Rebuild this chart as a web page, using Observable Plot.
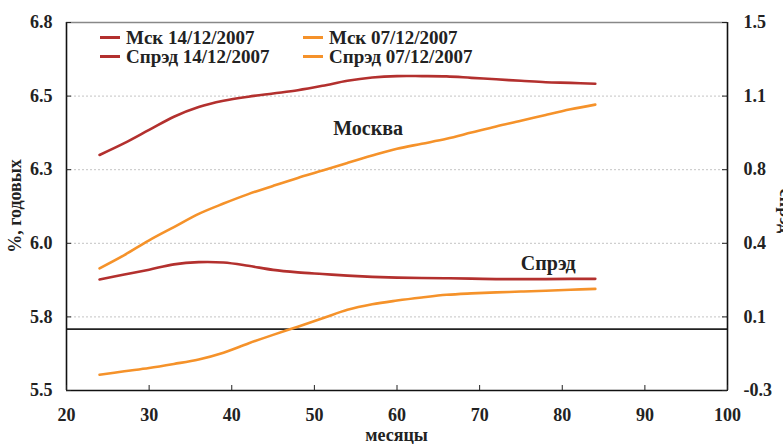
<!DOCTYPE html>
<html>
<head>
<meta charset="utf-8">
<script src="https://cdn.jsdelivr.net/npm/d3@7"></script>
<script src="https://cdn.jsdelivr.net/npm/@observablehq/plot@0.6"></script>
<style>
  html, body { margin: 0; padding: 0; background: #fff; }
  #wrap { position: relative; width: 783px; height: 444px; overflow: hidden; }
  #legend { position: absolute; left: 100px; top: 28px; display: grid;
    grid-template-columns: 203px auto; row-gap: 0px;
    font-family: "Liberation Serif", serif; font-weight: bold; font-size: 19px; color: #222; }
  .item { display: flex; align-items: center; height: 19px; white-space: nowrap; }
  .sw { width: 20px; height: 0; border-top: 3px solid; margin-right: 6px; }
</style>
</head>
<body>
<div id="wrap"><div id="legend"></div></div>
<script>
// months to maturity
const months = [24, 27, 30, 33, 36, 39, 42, 45, 48, 51, 54, 57, 60, 63, 66, 69, 72, 75, 78, 81, 84];
// Moscow yields, % p.a. (left axis)
const mskDec14 = [6.300, 6.340, 6.385, 6.430, 6.463, 6.484, 6.498, 6.509, 6.520, 6.535, 6.552, 6.563, 6.568, 6.568, 6.567, 6.562, 6.557, 6.552, 6.547, 6.545, 6.542];
const mskDec07 = [5.915, 5.960, 6.010, 6.055, 6.100, 6.135, 6.167, 6.195, 6.222, 6.247, 6.273, 6.298, 6.321, 6.338, 6.355, 6.376, 6.397, 6.416, 6.436, 6.455, 6.471];
// spreads (right axis)
const spreadDec14 = [0.243, 0.267, 0.291, 0.317, 0.328, 0.326, 0.310, 0.290, 0.278, 0.270, 0.262, 0.256, 0.252, 0.250, 0.249, 0.247, 0.245, 0.245, 0.245, 0.246, 0.246];
const spreadDec07 = [-0.223, -0.206, -0.190, -0.170, -0.148, -0.115, -0.070, -0.028, 0.012, 0.053, 0.095, 0.122, 0.140, 0.155, 0.168, 0.175, 0.180, 0.184, 0.188, 0.193, 0.197];

const seriesNames = ["Мск 14/12/2007", "Мск 07/12/2007", "Спрэд 14/12/2007", "Спрэд 07/12/2007"];
const seriesColors = ["#b3302e", "#f5922a", "#b3302e", "#f5922a"];
const legendOrder = ["Мск 14/12/2007", "Мск 07/12/2007", "Спрэд 14/12/2007", "Спрэд 07/12/2007"];

const leftDomain = [5.5, 6.75];
const rightDomain = [-0.3, 1.5];
const leftTicks = [5.5, 5.75, 6.0, 6.25, 6.5, 6.75];
const gridTicks = [5.75, 6.0, 6.25, 6.5];
const rightTicks = [-0.3, 0.06, 0.42, 0.78, 1.14, 1.5];
const xTicks = [20, 30, 40, 50, 60, 70, 80, 90, 100];
const xDomain = [20, 100];

const annotations = [
  {label: "Москва", month: 56.5, value: 6.39},
  {label: "Спрэд", month: 78.3, value: 5.93}
];

const xLabel = "месяцы";
const yLabel = "%, годовых";
const y2Label = "спрэд";

// map right-axis values into left-axis units
const toLeft = r => leftDomain[0] + (r - rightDomain[0]) / (rightDomain[1] - rightDomain[0]) * (leftDomain[1] - leftDomain[0]);
const toRight = l => rightDomain[0] + (l - leftDomain[0]) / (leftDomain[1] - leftDomain[0]) * (rightDomain[1] - rightDomain[0]);

const rows = [];
months.forEach((m, i) => {
  rows.push({month: m, series: seriesNames[0], value: mskDec14[i]});
  rows.push({month: m, series: seriesNames[1], value: mskDec07[i]});
  rows.push({month: m, series: seriesNames[2], value: toLeft(spreadDec14[i])});
  rows.push({month: m, series: seriesNames[3], value: toLeft(spreadDec07[i])});
});

const chart = Plot.plot({
  width: 783,
  height: 444,
  marginLeft: 66,
  marginRight: 56,
  marginTop: 22,
  marginBottom: 54,
  style: {fontFamily: "'Liberation Serif', serif", fontWeight: "bold", fontSize: "18px", color: "#222", background: "#fff"},
  x: {domain: xDomain},
  y: {domain: leftDomain},
  color: {domain: seriesNames, range: seriesColors},
  marks: [
    Plot.gridY(gridTicks, {stroke: "#c4c4c4", strokeOpacity: 1, strokeDasharray: "2,2"}),
    Plot.ruleY([toLeft(0)], {stroke: "#222", strokeWidth: 1.6}),
    Plot.lineY(rows, {x: "month", y: "value", z: "series", stroke: "series", strokeWidth: 2.6, curve: "catmull-rom"}),
    Plot.ruleY([leftDomain[1]], {stroke: "#888", strokeWidth: 1.6}),
    Plot.ruleY([leftDomain[0]], {stroke: "#111", strokeWidth: 1.6}),
    Plot.ruleX([xDomain[0]], {stroke: "#111", strokeWidth: 1.6}),
    Plot.ruleX([xDomain[1]], {stroke: "#111", strokeWidth: 1.6}),
    Plot.axisY(leftTicks, {anchor: "left", tickSize: -5, tickPadding: 19, tickFormat: d => d.toFixed(1), label: null}),
    Plot.axisY(rightTicks.map(toLeft), {anchor: "right", tickSize: -6, tickPadding: 22, tickFormat: d => toRight(d).toFixed(1), label: null}),
    Plot.axisX(xTicks, {anchor: "bottom", tickSize: -5, tickPadding: 23, label: null}),
    Plot.text(annotations, {x: "month", y: "value", text: "label", fill: "#222", fontSize: 20})
  ]
});

const svg = d3.select(chart);
svg.append("text")
  .attr("x", (66 + 727) / 2).attr("y", 441)
  .attr("text-anchor", "middle").attr("fill", "#222")
  .text(xLabel);
svg.append("text")
  .attr("transform", `translate(21,${(22 + 390) / 2}) rotate(-90)`)
  .attr("text-anchor", "middle").attr("fill", "#222")
  .text(yLabel);
svg.append("text")
  .attr("transform", `translate(780,211) rotate(90)`)
  .attr("text-anchor", "middle").attr("fill", "#222")
  .text(y2Label);

document.getElementById("wrap").prepend(chart);

const legend = d3.select("#legend");
legendOrder.forEach(name => {
  const it = legend.append("div").attr("class", "item");
  it.append("span").attr("class", "sw").style("border-top-color", seriesColors[seriesNames.indexOf(name)]);
  it.append("span").text(name);
});
</script>
</body>
</html>
